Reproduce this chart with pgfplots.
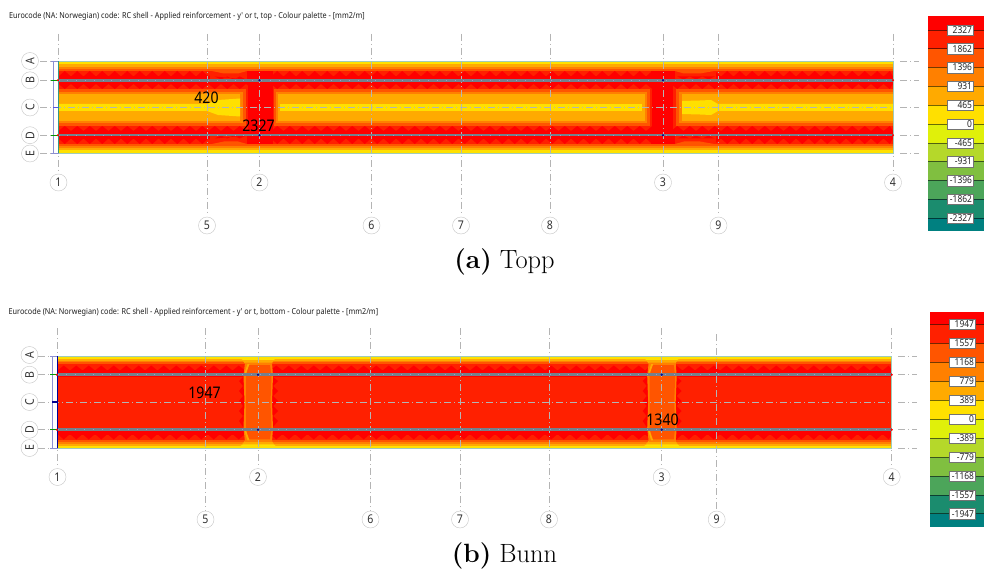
\documentclass[border=0pt]{standalone}
\usepackage{fontspec}
\usepackage{pgfplots}
\usepackage{pgfplotstable}
\pgfplotsset{compat=1.18}
\newfontfamily\ui[FakeStretch=0.88]{Noto Sans}

% contour colours, top of the palette first
\definecolor{c1}{HTML}{FF0000}
\definecolor{c2}{HTML}{FF2000}
\definecolor{c3}{HTML}{FF5500}
\definecolor{c4}{HTML}{FF8000}
\definecolor{c5}{HTML}{FFAA00}
\definecolor{c6}{HTML}{FFE000}
\definecolor{c7}{HTML}{E0F00A}
\definecolor{c8}{HTML}{B5D82A}
\definecolor{c9}{HTML}{80BF40}
\definecolor{c10}{HTML}{4CA55A}
\definecolor{c11}{HTML}{1B8C6E}
\definecolor{c12}{HTML}{008080}
\definecolor{gridc}{HTML}{B4B4B4}
\definecolor{beamc}{HTML}{75808C}
\definecolor{edgec}{HTML}{A0CCB8}
\definecolor{brackc}{HTML}{8C90D2}

\pgfplotstableread[row sep=\\]{
x t\\
58.5 0\\64.75 1\\71 0\\77.25 1\\83.5 0\\89.75 1\\96 0\\102.25 1\\108.5 0\\114.75 1\\121 0\\127.25 1\\
133.5 0\\139.75 1\\146 0\\152.25 1\\158.5 0\\164.75 1\\171 0\\177.25 1\\183.5 0\\189.75 1\\196 0\\202.25 1\\
208.5 0\\214.75 1\\221 0\\227.25 1\\233.5 0\\239.75 1\\246 0\\252.25 1\\258.5 0\\264.75 1\\271 0\\277.25 1\\
283.5 0\\289.75 1\\296 0\\302.25 1\\308.5 0\\314.75 1\\321 0\\327.25 1\\333.5 0\\339.75 1\\346 0\\352.25 1\\
358.5 0\\364.75 1\\371 0\\377.25 1\\383.5 0\\389.75 1\\396 0\\402.25 1\\408.5 0\\414.75 1\\421 0\\427.25 1\\
433.5 0\\439.75 1\\446 0\\452.25 1\\458.5 0\\464.75 1\\471 0\\477.25 1\\483.5 0\\489.75 1\\496 0\\502.25 1\\
508.5 0\\514.75 1\\521 0\\527.25 1\\533.5 0\\539.75 1\\546 0\\552.25 1\\558.5 0\\564.75 1\\571 0\\577.25 1\\
583.5 0\\589.75 1\\596 0\\602.25 1\\608.5 0\\614.75 1\\621 0\\627.25 1\\633.5 0\\639.75 1\\646 0\\652.25 1\\
658.5 0\\664.75 1\\671 0\\677.25 1\\683.5 0\\689.75 1\\696 0\\702.25 1\\708.5 0\\714.75 1\\721 0\\727.25 1\\
733.5 0\\739.75 1\\746 0\\752.25 1\\758.5 0\\764.75 1\\771 0\\777.25 1\\783.5 0\\789.75 1\\796 0\\802.25 1\\
808.5 0\\814.75 1\\821 0\\827.25 1\\833.5 0\\839.75 1\\846 0\\852.25 1\\858.5 0\\864.75 1\\871 0\\877.25 1\\
883.5 0\\889.75 1\\893 0\\
}\teethdata

% filled rectangle: colour, x1, x2, y1, y2
\newcommand{\rect}[5]{\addplot[fill=#1,draw=none] coordinates {(#2,#4)(#3,#4)(#3,#5)(#2,#5)} -- cycle;}
% zigzag row: base y, height, x shift
\newcommand{\teeth}[3]{\addplot[fill=c1,draw=none] table[x expr=\thisrow{x}+#3,y expr=#1+(#2)*\thisrow{t}] {\teethdata} -- cycle;}
\newcommand{\hl}[3]{\addplot[color=gridc,line width=.7pt,dash pattern=on 7pt off 3pt on 1pt off 3pt] coordinates {(#1,#3)(#2,#3)};}
\newcommand{\vl}[3]{\addplot[color=gridc,line width=.7pt,dash pattern=on 7pt off 3pt on 1pt off 3pt] coordinates {(#1,#2)(#1,#3)};}
\newcommand{\bub}[3]{\node[circle,draw=black!22,fill=white,minimum size=17pt,inner sep=0pt,text=black!80,font=\ui\fontsize{12}{12}\selectfont] at (axis cs:#1,#2) {#3};}
\newcommand{\rbub}[3]{\node[circle,draw=black!22,fill=white,minimum size=17pt,inner sep=0pt,text=black!80,rotate=90,font=\ui\fontsize{12}{12}\selectfont] at (axis cs:#1,#2) {#3};}
\newcommand{\val}[3]{\node[text=black,font=\ui\fontsize{16}{16}\selectfont,inner sep=0pt] at (axis cs:#1,#2) {#3};}
\newcommand{\leg}[3]{%
  \addplot[black,opacity=.55,line width=.6pt] coordinates {(#1,#2)(984,#2)};
  \node[draw=black!55,fill=white,minimum height=10.5pt,text width=23pt,inner xsep=1.5pt,inner ysep=0pt,align=right,text=black!85,font=\ui\fontsize{9.6}{10}\selectfont] at (axis cs:#1+32.5,#2) {#3};}

% hogging zone beside a column in the bottom result, shifted in x
\newcommand{\columnzone}[1]{%
  \addplot[fill=c6,draw=none,x filter/.expression={x+#1}] coordinates {(240,358)(276,358)(272,361.5)(245,361.5)} -- cycle;
  \addplot[fill=c6,draw=none,x filter/.expression={x+#1}] coordinates {(240,446.3)(276,446.3)(272,442.8)(245,442.8)} -- cycle;
  \addplot[fill=c5,draw=none,x filter/.expression={x+#1}] coordinates {(242,360)(274,360)(271,364.5)(246,364.5)} -- cycle;
  \addplot[fill=c5,draw=none,x filter/.expression={x+#1}] coordinates {(242,444.3)(274,444.3)(271,439.8)(246,439.8)} -- cycle;
  \addplot[fill=c1,draw=none,x filter/.expression={x+#1}] coordinates {(243,377)(239,381)(243,386)(239,391)(243,396)(239,401)(243,406)(239,411)(243,416)(239,421)(243,427)(248,427)(248,377)} -- cycle;
  \addplot[fill=c1,draw=none,x filter/.expression={x+#1}] coordinates {(273,377)(278,381)(273,386)(278,391)(273,396)(278,401)(273,406)(278,411)(273,416)(278,421)(273,427)(268,427)(268,377)} -- cycle;
  \addplot[fill=c4,draw=none,x filter/.expression={x+#1}] coordinates {(245,362.5)(272,362.5)(273,376)(272,402)(273,428)(272,441.8)(245,441.8)(243.5,428)(244.5,402)(243.5,376)} -- cycle;
  \addplot[fill=c3,draw=none,x filter/.expression={x+#1}] coordinates {(248,365)(270,365)(271.5,376)(270.5,402)(271.5,428)(270,439.3)(248,439.3)(246,428)(246,402)(246,376)} -- cycle;
  \addplot[fill=c5,draw=none,x filter/.expression={x+#1}] coordinates {(247.5,364)(249.5,364)(245.5,375)(244,375)} -- cycle;
  \addplot[fill=c5,draw=none,x filter/.expression={x+#1}] coordinates {(247.5,440.3)(249.5,440.3)(245.5,429.3)(244,429.3)} -- cycle;
}

\begin{document}
\begin{tikzpicture}
\begin{axis}[
  scale only axis,
  width=984pt,
  height=569pt,
  xmin=0, xmax=984,
  ymin=0, ymax=569,
  y dir=reverse,
  hide axis,
]
\rect{white}{0}{984}{0}{569}

% ---- upper result: bands from the outer edge inwards
\rect{c6}{58.5}{893}{61}{153.5}
\rect{c5}{58.5}{893}{64.5}{150}
\rect{c4}{58.5}{893}{66.7}{148}
\rect{c3}{58.5}{893}{68.7}{146}
\rect{c2}{58.5}{893}{71}{144}
\rect{c1}{58.5}{893}{76}{139}
\teeth{76.5}{-5.5}{0}
\teeth{138.5}{5.5}{0}
% red over the columns
\rect{c1}{247}{273}{71}{144}
\rect{c1}{651}{676}{71}{144}

% span islands
\rect{c2}{58.5}{248}{84}{131}
\rect{c2}{273}{652}{84}{131}
\rect{c2}{673}{893}{84}{131}
\teeth{84}{5}{0}
\teeth{131}{-5}{0}
\rect{c1}{248}{273}{84}{131}
\rect{c1}{652}{673}{84}{131}
\rect{c3}{58.5}{246}{89}{126}
\rect{c3}{274}{650}{89}{126}
\rect{c3}{676}{893}{89}{126}
\rect{c4}{58.5}{243}{92}{123}
\rect{c4}{276}{647}{92}{123}
\rect{c4}{679}{893}{92}{123}
\rect{c5}{58.5}{240}{94.3}{120.7}
\rect{c5}{278}{644.5}{94.3}{120.7}
\rect{c5}{682}{893}{94.3}{120.7}
\addplot[fill=c6,draw=none] coordinates {(58.5,104)(207,104)(218,100)(240,98.5)(240,116.5)(218,115)(207,111)(58.5,111)} -- cycle;
\rect{c6}{280}{642}{104}{111}
\addplot[fill=c6,draw=none] coordinates {(682,101)(700,100.5)(711,100)(718,104)(893,104)(893,111)(718,111)(711,115)(700,114.5)(682,114)} -- cycle;

% bumps on the span side of columns 2 and 3
\rect{c2}{210}{247}{71}{79}
\rect{c2}{210}{247}{136}{144}
\rect{c2}{675}{716}{71}{79}
\rect{c2}{675}{716}{136}{144}
\addplot[fill=c3,draw=none] coordinates {(212,71)(224,73.5)(238,73.5)(247,71)} -- cycle;
\addplot[fill=c3,draw=none] coordinates {(212,144)(224,141.5)(238,141.5)(247,144)} -- cycle;
\addplot[fill=c3,draw=none] coordinates {(675,71)(684,73.5)(700,73.5)(714,71)} -- cycle;
\addplot[fill=c3,draw=none] coordinates {(675,144)(684,141.5)(700,141.5)(714,144)} -- cycle;
\addplot[fill=c1,draw=none,restrict x to domain=212:250] table[x=x,y expr=79.5-3*\thisrow{t}] {\teethdata} -- cycle;
\addplot[fill=c1,draw=none,restrict x to domain=212:250] table[x=x,y expr=135.5+3*\thisrow{t}] {\teethdata} -- cycle;
\addplot[fill=c1,draw=none,restrict x to domain=676:716] table[x=x,y expr=79.5-3*\thisrow{t}] {\teethdata} -- cycle;
\addplot[fill=c1,draw=none,restrict x to domain=676:716] table[x=x,y expr=135.5+3*\thisrow{t}] {\teethdata} -- cycle;

% grid lines
\hl{40}{893}{61}\hl{40}{893}{80.3}\hl{40}{893}{107.5}\hl{40}{893}{135.2}\hl{40}{893}{153.5}
\hl{900}{919}{61}\hl{900}{919}{80.3}\hl{900}{919}{107.5}\hl{900}{919}{135.2}\hl{900}{919}{153.5}
\vl{58.5}{34}{174}\vl{259.5}{34}{174}\vl{663}{34}{174}\vl{893}{34}{174}
\vl{207}{34}{216}\vl{371.5}{34}{216}\vl{461}{34}{216}\vl{550}{34}{216}\vl{718.5}{34}{216}

% outline, beams and supports
\addplot[color=edgec,line width=.8pt] coordinates {(58.5,61)(893,61)(893,153.5)(58.5,153.5)};
\addplot[color=beamc,line width=2.6pt] coordinates {(58.5,80.3)(893,80.3)};
\addplot[color=beamc,line width=2.6pt] coordinates {(58.5,135.2)(893,135.2)};
\addplot[color=black!45!blue!40!white,line width=.7pt,dash pattern=on .8pt off 8pt] coordinates {(58.5,80.3)(893,80.3)};
\addplot[color=black!45!blue!40!white,line width=.7pt,dash pattern=on .8pt off 8pt] coordinates {(58.5,135.2)(893,135.2)};
\addplot[color=brackc,line width=.9pt] coordinates {(53.5,61)(53.5,153.5)};
\addplot[color=brackc,line width=.9pt] coordinates {(51,61)(58.5,61)};
\addplot[color=brackc,line width=.9pt] coordinates {(51,153.5)(58.5,153.5)};
\addplot[color=green!60!black,line width=.9pt] coordinates {(51,80.3)(58,80.3)};
\addplot[color=green!60!black,line width=.9pt] coordinates {(51,135.2)(58,135.2)};
\addplot[color=brackc!60!blue,line width=1.2pt] coordinates {(53,107.5)(58,107.5)};
\addplot[color=black!20!blue!50!green!80!white,line width=1.4pt] coordinates {(58.5,61)(58.5,153.5)};
\addplot[only marks,mark=*,mark size=.9pt,color=blue!60!black] coordinates {(259.5,80.3)(259.5,135.2)(663,80.3)(663,135.2)};
\addplot[only marks,mark=*,mark size=.9pt,color=red] coordinates {(58,80.3)(58,135.2)(893,80.3)(893,135.2)};

\rbub{30}{61}{A}\rbub{30}{80.3}{B}\rbub{30}{107.5}{C}\rbub{30}{135.2}{D}\rbub{30}{153.5}{E}
\bub{58.5}{182.5}{1}\bub{259.5}{182.5}{2}\bub{663}{182.5}{3}\bub{893}{182.5}{4}
\bub{207}{225.5}{5}\bub{371.5}{225.5}{6}\bub{461}{225.5}{7}\bub{550}{225.5}{8}\bub{718.5}{225.5}{9}
\val{206.5}{98}{420}
\val{258.5}{125.5}{2327}
\node[anchor=west,inner sep=0pt,text=black!88,font=\ui\fontsize{8.25}{9}\selectfont] at (axis cs:9,16) {Eurocode (NA: Norwegian) code: RC shell - Applied reinforcement - y' or t, top - Colour palette - [mm2/m]};
\node[inner sep=0pt,font=\fontsize{26.4}{28}\selectfont] at (axis cs:504.5,262) {\textbf{(a)} Topp};

% legend, upper
\rect{c1}{928}{984}{16}{30}
\rect{c2}{928}{984}{30}{48.7}
\rect{c3}{928}{984}{48.7}{67.5}
\rect{c4}{928}{984}{67.5}{86}
\rect{c5}{928}{984}{86}{105}
\rect{c6}{928}{984}{105}{124}
\rect{c7}{928}{984}{124}{143}
\rect{c8}{928}{984}{143}{161.5}
\rect{c9}{928}{984}{161.5}{180.5}
\rect{c10}{928}{984}{180.5}{199}
\rect{c11}{928}{984}{199}{218}
\rect{c12}{928}{984}{218}{231}
\leg{928}{30}{2327}\leg{928}{48.7}{1862}\leg{928}{67.5}{1396}\leg{928}{86}{931}
\leg{928}{105}{465}\leg{928}{124}{0}\leg{928}{143}{-465}\leg{928}{161.5}{-931}
\leg{928}{180.5}{-1396}\leg{928}{199}{-1862}\leg{928}{218}{-2327}

% ---- lower result
\rect{c6}{57.5}{891.7}{356}{448.3}
\rect{c5}{57.5}{891.7}{358.5}{446}
\rect{c4}{57.5}{891.7}{360.5}{444}
\rect{c3}{57.5}{891.7}{362.3}{442}
\rect{c2}{57.5}{891.7}{364.3}{440}
\rect{c1}{57.5}{891.7}{370}{434.5}
\teeth{370.5}{-5}{-1}
\teeth{434}{5.5}{-1}
\rect{c2}{57.5}{891.7}{377}{427.5}
\columnzone{0}
\columnzone{403.7}

\hl{38}{891.7}{356}\hl{38}{891.7}{374.7}\hl{38}{891.7}{402}\hl{38}{891.7}{429.7}\hl{38}{891.7}{448.3}
\hl{898}{917}{356}\hl{898}{917}{374.7}\hl{898}{917}{402}\hl{898}{917}{429.7}\hl{898}{917}{448.3}
\vl{57.5}{328}{468}\vl{258}{328}{468}\vl{661.7}{328}{468}\vl{891.7}{328}{468}
\vl{205.5}{328}{511}\vl{370.5}{328}{511}\vl{460}{328}{511}\vl{549}{328}{511}\vl{716.7}{334}{511}

\addplot[color=edgec,line width=.8pt] coordinates {(57.5,356)(891.7,356)(891.7,448.3)(57.5,448.3)};
\addplot[color=beamc,line width=2.6pt] coordinates {(57.5,374.7)(891.7,374.7)};
\addplot[color=beamc,line width=2.6pt] coordinates {(57.5,429.7)(891.7,429.7)};
\addplot[color=black!45!blue!40!white,line width=.7pt,dash pattern=on .8pt off 8pt] coordinates {(57.5,374.7)(891.7,374.7)};
\addplot[color=black!45!blue!40!white,line width=.7pt,dash pattern=on .8pt off 8pt] coordinates {(57.5,429.7)(891.7,429.7)};
\addplot[color=brackc,line width=.9pt] coordinates {(52.3,356)(52.3,448.3)};
\addplot[color=brackc,line width=.9pt] coordinates {(50,356)(57.5,356)};
\addplot[color=brackc,line width=.9pt] coordinates {(50,448.3)(57.5,448.3)};
\addplot[color=green!60!black,line width=.9pt] coordinates {(50,374.7)(57,374.7)};
\addplot[color=green!60!black,line width=.9pt] coordinates {(50,429.7)(57,429.7)};
\addplot[color=blue!55!black,line width=1.2pt] coordinates {(52,402)(57,402)};
\addplot[color=blue!60!black,line width=.9pt] coordinates {(57.5,356)(57.5,448.3)};
\addplot[only marks,mark=*,mark size=.9pt,color=blue!60!black] coordinates {(258,374.7)(258,429.7)(661.7,374.7)(661.7,429.7)};
\addplot[only marks,mark=*,mark size=.9pt,color=red] coordinates {(57,374.7)(57,429.7)(891.7,374.7)(891.7,429.7)};

\rbub{29.5}{355}{A}\rbub{29.5}{374.7}{B}\rbub{29.5}{402}{C}\rbub{29.5}{429.7}{D}\rbub{29.5}{448}{E}
\bub{57.5}{477}{1}\bub{258}{477}{2}\bub{661.7}{477}{3}\bub{891.7}{477}{4}
\bub{205.5}{519.5}{5}\bub{370.5}{519.5}{6}\bub{460}{519.5}{7}\bub{549}{519.5}{8}\bub{716.7}{519.5}{9}
\val{204.5}{393}{1947}
\val{662.5}{420}{1340}
\node[anchor=west,inner sep=0pt,text=black!88,font=\ui\fontsize{8.25}{9}\selectfont] at (axis cs:8.5,312) {Eurocode (NA: Norwegian) code: RC shell - Applied reinforcement - y' or t, bottom - Colour palette - [mm2/m]};
\node[inner sep=0pt,font=\fontsize{26.4}{28}\selectfont] at (axis cs:504.5,556) {\textbf{(b)} Bunn};

% legend, lower
\rect{c1}{930}{984}{311.7}{324.3}
\rect{c2}{930}{984}{324.3}{343.3}
\rect{c3}{930}{984}{343.3}{362}
\rect{c4}{930}{984}{362}{381}
\rect{c5}{930}{984}{381}{400}
\rect{c6}{930}{984}{400}{419}
\rect{c7}{930}{984}{419}{438}
\rect{c8}{930}{984}{438}{457}
\rect{c9}{930}{984}{457}{476}
\rect{c10}{930}{984}{476}{495}
\rect{c11}{930}{984}{495}{513.7}
\rect{c12}{930}{984}{513.7}{527}
\leg{930}{324.3}{1947}\leg{930}{343.3}{1557}\leg{930}{362}{1168}\leg{930}{381}{779}
\leg{930}{400}{389}\leg{930}{419}{0}\leg{930}{438}{-389}\leg{930}{457}{-779}
\leg{930}{476}{-1168}\leg{930}{495}{-1557}\leg{930}{513.7}{-1947}
\end{axis}
\end{tikzpicture}
\end{document}
